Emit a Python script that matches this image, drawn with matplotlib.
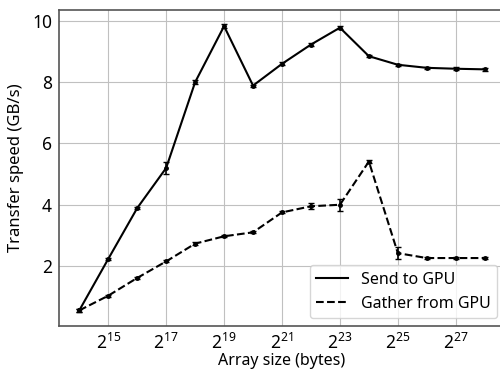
import matplotlib
matplotlib.use("Agg")
import matplotlib.pyplot as plt
from matplotlib.lines import Line2D

plt.rcParams['font.family'] = ['Noto Sans', 'DejaVu Sans']

log2_sizes = [14, 15, 16, 17, 18, 19, 20, 21, 22, 23, 24, 25, 26, 27, 28]
send_speed = [0.55, 2.23, 3.89, 5.2, 8.0, 9.83, 7.89, 8.6, 9.23, 9.78, 8.85, 8.57, 8.47, 8.44, 8.42]
send_err = [0.04, 0.03, 0.03, 0.2, 0.06, 0.06, 0.03, 0.05, 0.05, 0.04, 0.03, 0.04, 0.04, 0.05, 0.05]
gather_speed = [0.55, 1.03, 1.61, 2.15, 2.73, 2.97, 3.1, 3.75, 3.95, 4.0, 5.41, 2.42, 2.26, 2.26, 2.26]
gather_err = [0.04, 0.03, 0.03, 0.03, 0.04, 0.03, 0.03, 0.03, 0.1, 0.2, 0.05, 0.2, 0.03, 0.03, 0.03]
tick_exps = [15, 17, 19, 21, 23, 25, 27]

sizes = [2 ** k for k in log2_sizes]

fig = plt.figure(figsize=(5.0, 3.69), dpi=100)
ax = fig.add_axes([0.118, 0.1165, 0.892, 0.8565])

ax.errorbar(sizes, send_speed, yerr=send_err, color='black', linestyle='-', marker='o',
            markersize=2.5, capsize=2, elinewidth=1.2, linewidth=1.5)
ax.errorbar(sizes, gather_speed, yerr=gather_err, color='black', linestyle='--', marker='o',
            markersize=2.5, capsize=2, elinewidth=1.2, linewidth=1.5)

ax.set_xscale('log', base=2)
ax.set_xticks([2 ** k for k in tick_exps])
ax.set_xticklabels([r'$\mathregular{2^{%d}}$' % k for k in tick_exps])
ax.minorticks_off()
ax.set_yticks([2, 4, 6, 8, 10])

ax.grid(True, color='#c0c0c0', linewidth=0.8)
ax.set_axisbelow(True)
for s in ax.spines.values():
    s.set_color('#555555')
    s.set_linewidth(1.2)
ax.tick_params(labelsize=12.5, length=0, pad=5)

ax.set_xlabel('Array size (bytes)', fontsize=11.5, labelpad=0)
ax.set_ylabel('Transfer speed (GB/s)', fontsize=12, labelpad=6)
handles = [Line2D([], [], color='black', linestyle='-', linewidth=1.5),
           Line2D([], [], color='black', linestyle='--', linewidth=1.5)]
ax.legend(handles, ['Send to GPU', 'Gather from GPU'], loc='lower right', fontsize=11.5,
          handlelength=2.0)

fig.savefig('out.png', dpi=100)
